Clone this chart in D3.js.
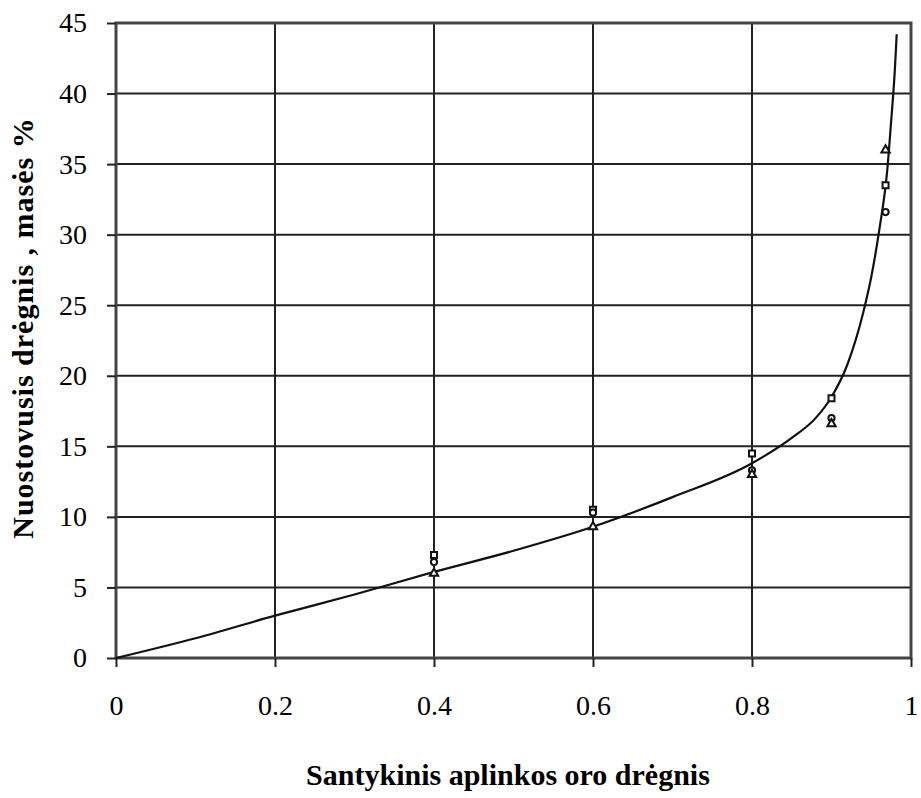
<!DOCTYPE html>
<html>
<head>
<meta charset="utf-8">
<script src="https://cdn.jsdelivr.net/npm/d3@7"></script>
<style>
  body { margin: 0; background: #fff; }
  text { font-family: "Liberation Serif", "Times New Roman", serif; fill: #000; }
</style>
</head>
<body>
<div id="chart"></div>
<script>
// measured series (markers)
const xPoints = [0.4, 0.6, 0.8, 0.9, 0.968];
const squares = [7.3, 10.5, 14.5, 18.4, 33.5];
const circles = [6.8, 10.3, 13.3, 17.0, 31.6];
const triangles = [6.0, 9.3, 13.0, 16.6, 36.0];

// fitted curve
const curveX = [0, 0.1, 0.2, 0.3, 0.4, 0.5, 0.6, 0.7, 0.8, 0.85, 0.88, 0.9, 0.92, 0.94, 0.95, 0.96, 0.97, 0.975, 0.98, 0.982];
const curveY = [0, 1.4, 3.0, 4.5, 6.1, 7.6, 9.3, 11.4, 13.8, 15.6, 17.0, 18.5, 20.8, 24.5, 27.0, 30.3, 34.5, 38.0, 42.0, 44.2];

const xTicks = [0, 0.2, 0.4, 0.6, 0.8, 1];
const yTicks = [0, 5, 10, 15, 20, 25, 30, 35, 40, 45];

const width = 921, height = 798;
const margin = {top: 23, right: 10, bottom: 140, left: 116};

const svg = d3.select("#chart").append("svg")
    .attr("width", width)
    .attr("height", height);

const x = d3.scaleLinear().domain([0, 1]).range([margin.left, 911]);
const y = d3.scaleLinear().domain([0, 45]).range([658, margin.top]);

// grid
svg.append("g")
    .selectAll("line.vgrid")
    .data(xTicks)
    .enter().append("line")
    .attr("x1", d => x(d)).attr("x2", d => x(d))
    .attr("y1", y(45)).attr("y2", y(0))
    .attr("stroke", "#222").attr("stroke-width", 2);

svg.append("g")
    .selectAll("line.hgrid")
    .data(yTicks)
    .enter().append("line")
    .attr("x1", x(0)).attr("x2", x(1))
    .attr("y1", d => y(d)).attr("y2", d => y(d))
    .attr("stroke", "#222").attr("stroke-width", 2);

// frame
svg.append("rect")
    .attr("x", x(0)).attr("y", y(45))
    .attr("width", x(1) - x(0)).attr("height", y(0) - y(45))
    .attr("fill", "none").attr("stroke", "#444").attr("stroke-width", 3);

// axes
const xAxis = d3.axisBottom(x).tickValues(xTicks).tickSize(9).tickPadding(28)
    .tickFormat(d => d === 0 || d === 1 ? d3.format("d")(d) : d3.format(".1f")(d));
const gx = svg.append("g")
    .attr("transform", "translate(0," + y(0) + ")")
    .call(xAxis);
gx.select(".domain").remove();
gx.selectAll("line").attr("stroke", "#222").attr("stroke-width", 2);
gx.selectAll("text").style("font-size", "28px");

const yAxis = d3.axisLeft(y).tickValues(yTicks).tickSize(9).tickPadding(20);
const gy = svg.append("g")
    .attr("transform", "translate(" + x(0) + ",0)")
    .call(yAxis);
gy.select(".domain").remove();
gy.selectAll("line").attr("stroke", "#222").attr("stroke-width", 2);
gy.selectAll("text").style("font-size", "28px");

// curve
const curveData = curveX.map((d, i) => ({x: d, y: curveY[i]}));
const line = d3.line()
    .x(d => x(d.x))
    .y(d => y(d.y))
    .curve(d3.curveMonotoneX);

svg.append("path")
    .datum(curveData)
    .attr("d", line)
    .attr("fill", "none")
    .attr("stroke", "#111")
    .attr("stroke-width", 2.2);

// markers
const sym = [
    {vals: squares, type: d3.symbolSquare, size: 36},
    {vals: circles, type: d3.symbolCircle, size: 30},
    {vals: triangles, type: d3.symbolTriangle, size: 30}
];
sym.forEach(s => {
    svg.append("g")
        .selectAll("path")
        .data(s.vals.map((v, i) => ({x: xPoints[i], y: v})))
        .enter().append("path")
        .attr("transform", d => "translate(" + x(d.x) + "," + y(d.y) + ")")
        .attr("d", d3.symbol().type(s.type).size(s.size))
        .attr("fill", "#fff")
        .attr("stroke", "#111")
        .attr("stroke-width", 2);
});

// axis titles
svg.append("text")
    .attr("x", 508)
    .attr("y", 785)
    .style("text-anchor", "middle")
    .style("font-size", "30px")
    .style("font-weight", "bold")
    .text("Santykinis aplinkos oro drėgnis");

svg.append("text")
    .attr("transform", "translate(33,328) rotate(-90)")
    .style("text-anchor", "middle")
    .style("font-size", "30px")
    .style("font-weight", "bold")
    .style("letter-spacing", "1px")
    .text("Nuostovusis drėgnis , masės %");
</script>
</body>
</html>
